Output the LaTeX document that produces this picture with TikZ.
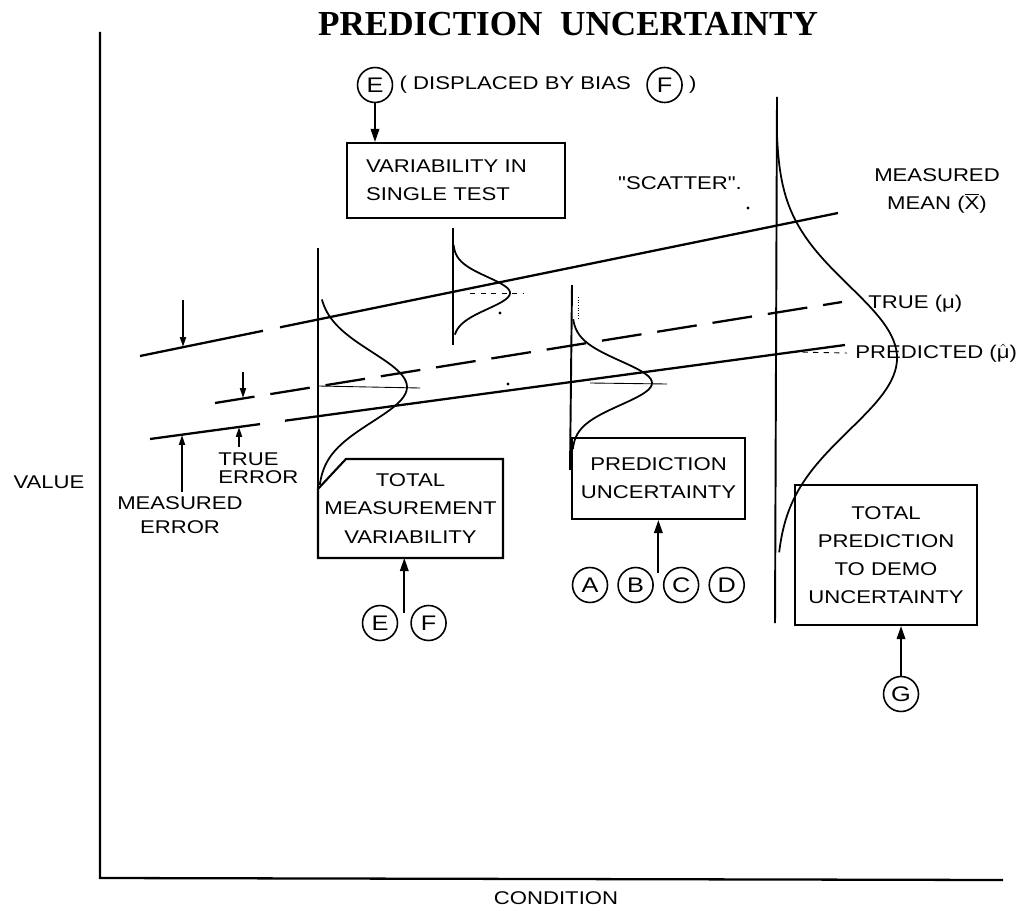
\documentclass[tikz,border=0pt]{standalone}
\usepackage{fontspec}
\setmainfont{Liberation Serif}
\newfontfamily\labelfont[FakeStretch=1.2]{Liberation Sans}
\usetikzlibrary{positioning,calc,arrows.meta}

\begin{document}
\begin{tikzpicture}[
    x=0.02cm, y=-0.02cm,
    % Boxed captions (sharp corners)
    block/.style={
        draw=black,
        line width=1.2pt,
        align=center,
        font=\labelfont\fontsize{10.5}{16}\selectfont,
        inner sep=0pt
    },
    % Plain text labels
    lbl/.style={
        text=black,
        font=\labelfont\fontsize{10.5}{16}\selectfont,
        inner sep=0pt
    },
    % Circled source letters
    tag/.style={
        circle,
        draw=black,
        line width=0.9pt,
        minimum size=0.7cm,
        inner sep=0pt,
        font=\labelfont\fontsize{12}{12}\selectfont
    },
    % Arrows into the boxes
    arrow/.style={
        -{Triangle[length=0.26cm,width=0.17cm]},
        line width=1pt
    },
    % Small arrows marking the errors
    smallarrow/.style={
        -{Triangle[length=0.2cm,width=0.12cm]},
        line width=1pt
    },
    axis/.style={line width=1.3pt},
    trend/.style={line width=1.3pt},
    base/.style={line width=1.1pt},
    bell/.style={line width=1pt, smooth, variable=\t, samples=60},
    tick/.style={line width=0.5pt}
]
\useasboundingbox (0,0) rectangle (1026,911);

% --- Title ---
\node[font=\bfseries\fontsize{20}{24}\selectfont] (title) at (568,24) {PREDICTION\ \ UNCERTAINTY};

% --- Axes ---
\draw[axis] (100,32) -- (100,878) -- (1003,880);
\node[lbl] (valuelbl) at (49,482) {VALUE};
\node[lbl] (condlbl) at (556,898) {CONDITION};

% --- Trend lines: measured mean, true, predicted ---
\draw[trend] (140,356) -- (263,330.8);
\draw[trend] (280,327.3) -- (838,213);
\draw[trend, dash pattern=on 0.8cm off 0.32cm] (215,403) -- (842,302);
\draw[trend] (150,439) -- (260,424.1);
\draw[trend] (285,420.7) -- (845,345);

\node[lbl, align=center] (meanlbl) at (937,191) {MEASURED\\MEAN ($\overline{\mbox{X}}$)};
\node[lbl, anchor=base west] (truelbl) at (868,309) {TRUE (μ)};
\node[lbl, anchor=base west] (predlbl) at (855,359) {PREDICTED ($\hat{\mbox{μ}}$)};
\node[lbl] (scatter) at (680,183) {"SCATTER".};

% --- Error markers on the left ---
\coordinate (merrA) at (183,300);
\coordinate (merrB) at (183,347);
\coordinate (terrA) at (243,372);
\coordinate (terrB) at (243,398);
\coordinate (merrC) at (182,492);
\coordinate (merrD) at (182,435);
\coordinate (terrC) at (239,447);
\coordinate (terrD) at (239,427);
\draw[smallarrow] (merrA) -- (merrB);
\draw[smallarrow] (terrA) -- (terrB);
\draw[smallarrow] (merrC) -- (merrD);
\draw[smallarrow] (terrC) -- (terrD);

\node[lbl, align=left, anchor=north west, font=\labelfont\fontsize{10.5}{10.5}\selectfont] (trueerr) at (218,452) {TRUE\\ERROR};
\node[lbl, align=center, font=\labelfont\fontsize{10.5}{14}\selectfont] (measerr) at (180,515) {MEASURED\\ERROR};

% --- Distributions ---
\draw[base] (318,248) -- (318,513);
\draw[bell] plot[domain=-2.5:2.8] ({318+89*exp(-\t*\t/2)}, {387+35*\t});
\draw[tick] (318,386) -- (420,388);

\draw[base] (453,228) -- (453,345);
\draw[bell] plot[domain=-3:2.6] ({453+57*exp(-\t*\t/2)}, {293+16*\t});
\draw[tick, dashed] (470,293) -- (523,293);

\draw[base] (572,285) -- (570,470);
\draw[bell] plot[domain=-2.9:3] ({572+80*exp(-\t*\t/2)}, {383+22*\t});
\draw[tick] (590,383) -- (667,384);
\draw[tick, densely dotted] (578,297) -- (578,320);

\draw[base] (777,97) -- (775,623);
\draw[bell] plot[domain=-3.1:2.7] ({776+121*exp(-\t*\t/2)}, {358+72*\t});
\draw[tick, dashed] (792,352) -- (847,353);

% scatter points
\fill (500,313) circle (1.6);
\fill (508,384) circle (1.6);
\fill (748,208) circle (1.6);

% --- Single test box and bias note ---
\node[block, minimum width=4.36cm, minimum height=1.5cm, text width=3.6cm, align=left] (singlebox) at (456,180.5) {
    VARIABILITY IN\\
    SINGLE TEST
};
\node[tag] (tagEtop) at (375,85) {E};
\node[lbl, right=0.12cm of tagEtop] (bias) {( DISPLACED BY BIAS};
\node[tag, right=0.3cm of bias] (tagFtop) {F};
\node[lbl, right=0.12cm of tagFtop] (biasend) {)};
\draw[arrow] (tagEtop.south) -- (singlebox.north -| tagEtop);

% --- Total measurement variability (clipped corner) ---
\node[block, draw=none, minimum width=3.66cm, minimum height=1.94cm] (measbox) at (410.5,508.5) {
    TOTAL\\
    MEASUREMENT\\
    VARIABILITY
};
\draw[line width=1.2pt] ($(measbox.north west)+(28,0)$) -- (measbox.north east) -- (measbox.south east)
    -- (measbox.south west) -- ($(measbox.north west)+(0,30)$) -- cycle;
\node[tag] (tagE) at (380,623) {E};
\node[tag, right=0.24cm of tagE] (tagF) {F};
\coordinate (efsrc) at ($($(tagE)!0.5!(tagF)$)+(0,-10)$);
\draw[arrow] (efsrc) -- (measbox.south -| efsrc);

% --- Prediction uncertainty ---
\node[block, minimum width=3.46cm, minimum height=1.62cm] (predbox) at (658.5,478.5) {
    PREDICTION\\
    UNCERTAINTY
};
\node[tag] (tagA) at (590,585) {A};
\node[tag, right=0.18cm of tagA] (tagB) {B};
\node[tag, right=0.18cm of tagB] (tagC) {C};
\node[tag, right=0.18cm of tagC] (tagD) {D};
\coordinate (abcdsrc) at ($($(tagB)!0.5!(tagC)$)+(0,-12)$);
\draw[arrow] (abcdsrc) -- (predbox.south -| abcdsrc);

% --- Total prediction to demo uncertainty ---
\node[block, minimum width=3.64cm, minimum height=2.8cm] (demobox) at (886,555) {
    TOTAL\\
    PREDICTION\\
    TO DEMO\\
    UNCERTAINTY
};
\node[tag] (tagG) at (901,694) {G};
\draw[arrow] (tagG.north) -- (demobox.south -| tagG);

\end{tikzpicture}
\end{document}
